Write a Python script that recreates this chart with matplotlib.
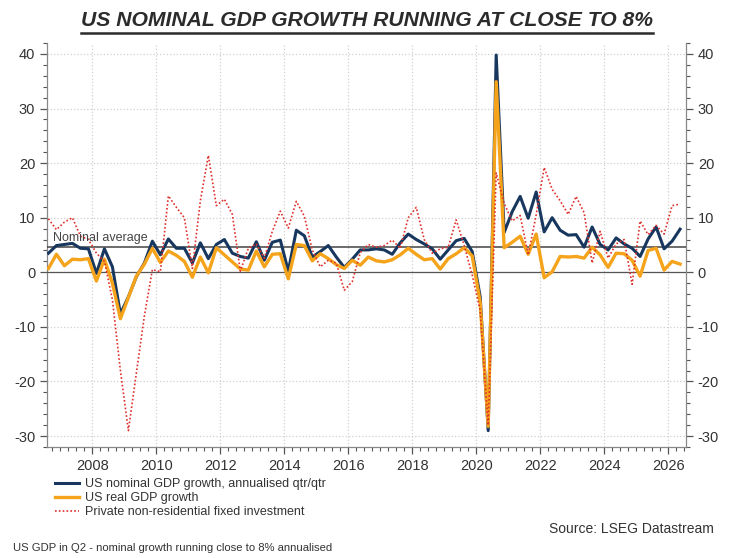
import matplotlib
matplotlib.use("Agg")
import matplotlib.pyplot as plt
from matplotlib import font_manager
from matplotlib.lines import Line2D
from matplotlib.ticker import MultipleLocator
import numpy as np
import pandas as pd

# quarterly data, 2006Q3 .. 2026Q2 (annualised qtr/qtr %)
start_q = "2006Q3"
end_q = "2026Q2"

nominal = [3.5, 4.9, 5.1, 5.3, 4.4, 4.3, -0.2, 4.3, 1.0, -7.6,
           -4.5, -0.8, 1.7, 5.7, 3.2, 6.1, 4.4, 4.4, 1.7, 5.4,
           2.5, 5.1, 6.0, 3.5, 2.9, 2.6, 5.6, 2.2, 5.5, 5.9,
           0.2, 7.7, 6.7, 2.8, 3.8, 4.9, 2.8, 0.9, 2.4, 4.1,
           4.1, 4.3, 4.1, 3.3, 5.4, 7.0, 6.0, 5.2, 4.3, 2.4,
           4.1, 5.8, 6.2, 3.8, -4.5, -29.0, 39.8, 7.3, 11.1, 13.9,
           9.9, 14.7, 7.4, 10.0, 7.7, 6.8, 6.9, 4.6, 8.3, 5.1,
           4.1, 6.3, 5.2, 4.4, 2.9, 6.1, 8.3, 4.3, 5.7, 7.9]

real = [0.7, 3.3, 1.2, 2.4, 2.3, 2.5, -1.6, 2.4, -2.0, -8.5,
        -4.6, -0.7, 1.5, 4.4, 1.8, 3.9, 3.1, 2.0, -0.9, 2.8,
        -0.1, 4.5, 3.2, 1.9, 0.6, 0.4, 3.9, 1.0, 3.3, 3.4,
        -1.2, 5.1, 4.9, 2.1, 3.4, 2.5, 1.4, 0.7, 2.2, 1.3,
        2.8, 2.1, 1.9, 2.3, 3.2, 4.4, 3.3, 2.3, 2.5, 0.6,
        2.5, 3.4, 4.5, 3.0, -5.5, -28.2, 34.9, 4.5, 5.5, 6.6,
        3.3, 7.0, -1.0, 0.1, 2.9, 2.8, 2.9, 2.6, 4.6, 3.2,
        0.9, 3.5, 3.4, 2.2, -0.7, 4.0, 4.4, 0.4, 2.0, 1.5]

nonres_inv = [9.8, 7.8, 9.2, 10.0, 6.6, 6.0, 3.5, 2.0, -5.0, -18.0,
              -29.0, -18.4, -8.0, 0.5, 0.1, 14.0, 11.9, 10.0, 0.7, 13.1,
              21.4, 12.2, 13.4, 10.6, 0.2, 4.4, 5.2, 2.6, 7.5, 11.2,
              8.1, 13.0, 10.3, 4.1, 1.0, 2.2, 1.7, -3.3, -1.7, 3.6,
              5.1, 4.6, 4.9, 5.9, 4.4, 10.0, 11.9, 6.0, 3.5, 4.3,
              4.6, 9.6, 4.9, -0.5, -7.0, -28.0, 18.2, 12.6, 9.4, 10.4,
              3.2, 10.5, 19.2, 15.2, 13.1, 10.6, 13.9, 10.9, 1.7, 7.5,
              2.6, 5.2, 6.0, -2.2, 9.4, 6.9, 8.6, 7.0, 12.2, 12.5]

nominal_avg = 4.6

labels = ["US nominal GDP growth, annualised qtr/qtr",
          "US real GDP growth",
          "Private non-residential fixed investment"]

quarters = pd.period_range(start_q, end_q, freq="Q")
x = np.array([q.year + (q.quarter - 0.5) / 4 for q in quarters])

installed = {f.name for f in font_manager.fontManager.ttflist}
base_font = "Liberation Sans" if "Liberation Sans" in installed else "DejaVu Sans"
plt.rcParams["font.family"] = [base_font, "DejaVu Sans"]
plt.rcParams["axes.unicode_minus"] = False

txt_col = "#333333"
navy = "#17375e"
orange = "#f5a31a"
red = "#e0302b"

fig = plt.figure(figsize=(7.34, 5.58), dpi=100)
ax = fig.add_axes([47 / 734, 1 - 447 / 558, (686 - 47) / 734, (447 - 43) / 558])

ax.plot(x, nominal, color=navy, lw=2.2, zorder=4, label=labels[0])
ax.plot(x, real, color=orange, lw=2.4, zorder=5, label=labels[1])
ax.plot(x, nonres_inv, color=red, lw=1.2, ls=(0, (1, 1.3)), zorder=6, label=labels[2])

ax.axhline(0, color="#555555", lw=0.9, zorder=3)
ax.axhline(nominal_avg, color="#444444", lw=1.1, zorder=3)
ax.text(2006.78, nominal_avg + 0.6, "Nominal average", color="#444444",
        fontsize=9, va="bottom", ha="left", zorder=7)

ax.set_xlim(2006.58, 2026.56)
ax.set_ylim(-32, 42)
ax.set_xticks(np.arange(2008, 2027, 2))
ax.xaxis.set_minor_locator(MultipleLocator(0.25))
ax.set_yticks(np.arange(-30, 41, 10))
ax.yaxis.set_minor_locator(MultipleLocator(2))

ax.grid(True, which="major", color="#d0d0d0", ls=":", lw=0.9)
ax.tick_params(axis="y", which="both", left=True, right=True, labelleft=True,
               labelright=True, colors="#555555", labelcolor=txt_col, labelsize=10.5)
ax.tick_params(axis="x", which="both", colors="#555555", labelcolor=txt_col, labelsize=10.5)
ax.tick_params(which="major", length=5, width=0.9)
ax.tick_params(which="minor", length=3, width=0.8)

ax.spines["top"].set_visible(False)
for s in ["left", "right", "bottom"]:
    ax.spines[s].set_color("#888888")
    ax.spines[s].set_linewidth(0.9)

fig.legend(loc="upper left", bbox_to_anchor=(49 / 734, 1 - 472 / 558),
           frameon=False, fontsize=9, handlelength=1.9, handletextpad=0.5,
           labelspacing=0.15, borderpad=0, labelcolor=txt_col)

title = fig.text(0.5, 1 - 21 / 558, "US NOMINAL GDP GROWTH RUNNING AT CLOSE TO 8%",
                 ha="center", va="center", fontsize=15.2, fontweight="bold",
                 fontstyle="italic", color="#2b2b2b")

fig.text(714 / 734, 1 - 529 / 558, "Source: LSEG Datastream", ha="right", va="center",
         fontsize=10, color=txt_col)
fig.text(13 / 734, 1 - 548 / 558, "US GDP in Q2 - nominal growth running close to 8% annualised",
         ha="left", va="center", fontsize=8.1, color=txt_col)

# underline under the title
fig.canvas.draw()
bb = title.get_window_extent()
W, H = fig.bbox.width, fig.bbox.height
uy = (bb.y0 - 2) / H
fig.add_artist(Line2D([bb.x0 / W, bb.x1 / W], [uy, uy], color="#2b2b2b", lw=1.8,
                      transform=fig.transFigure))

fig.savefig("out.png", dpi=100)
